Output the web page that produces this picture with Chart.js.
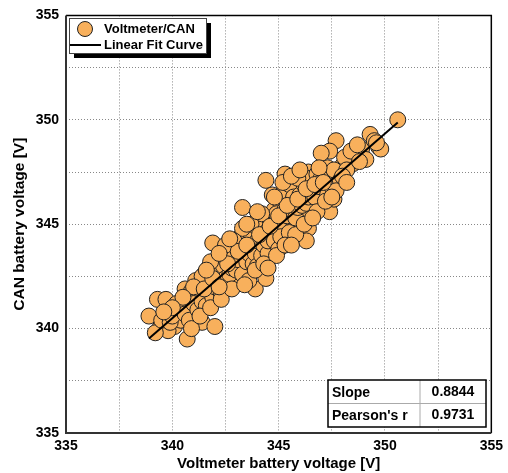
<!DOCTYPE html>
<html>
<head>
<meta charset="utf-8">
<script src="https://cdn.jsdelivr.net/npm/chart.js@4/dist/chart.umd.min.js"></script>
<style>
  html, body { margin: 0; padding: 0; background: #fff; }
  #wrap { width: 508px; height: 473px; }
</style>
</head>
<body>
<div id="wrap"><canvas id="myChart" width="508" height="473"></canvas></div>
<script>

// measured pairs: voltmeter reading vs. value reported on CAN
const voltX = [
  338.9, 339.3, 339.7, 339.4, 339.6, 339.9, 340.3, 340.1, 340.5, 340.6,
  340.7, 341.4, 342.0, 339.8, 340.2, 340.8, 340.4, 341.0, 341.2, 340.9,
  341.3, 341.6, 341.1, 341.5, 341.8, 341.9, 341.7, 342.0, 342.1, 342.3,
  342.2, 342.4, 342.5, 342.6, 342.8, 342.7, 342.9, 343.0, 343.1, 343.2,
  343.3, 343.2, 343.4, 343.5, 343.6, 343.7, 343.8, 343.9, 344.0, 343.9,
  344.4, 344.1, 344.2, 344.3, 344.4, 344.5, 344.6, 344.7, 344.8, 344.9,
  345.0, 345.1, 345.3, 345.2, 345.4, 345.5, 345.6, 345.7, 345.8, 345.9,
  346.0, 346.1, 346.2, 346.4, 346.4, 346.3, 346.5, 346.6, 346.7, 346.8,
  346.9, 347.0, 347.1, 347.3, 347.4, 347.6, 347.4, 347.7, 347.4, 347.8,
  348.0, 348.3, 348.5, 348.6, 348.9, 349.1, 349.3, 349.5, 349.7, 350.6,
  339.2, 339.5, 339.9, 340.0, 340.3, 340.6, 340.8, 341.0, 341.2, 341.4,
  341.6, 341.7, 341.9, 342.0, 342.1, 342.3, 342.4, 342.5, 342.6, 342.7,
  342.8, 342.9, 343.0, 343.0, 343.1, 343.2, 343.3, 343.4, 343.5, 343.6,
  343.6, 343.7, 343.8, 343.9, 344.0, 344.0, 344.1, 344.2, 344.3, 344.4,
  344.5, 344.5, 344.6, 344.7, 344.8, 344.9, 345.0, 345.0, 345.1, 345.2,
  345.3, 345.4, 345.5, 345.5, 345.6, 345.7, 345.8, 345.9, 346.0, 346.1,
  346.2, 346.3, 346.4, 346.5, 346.6, 346.7, 346.8, 346.9, 347.0, 347.2,
  347.3, 347.5, 347.6, 347.9, 348.1, 348.4, 348.7, 348.2, 347.0, 346.9,
  345.9, 345.2, 344.7, 344.2, 343.7, 343.3, 342.9, 342.5, 341.8, 341.4,
  341.0, 340.5, 340.0, 339.6, 340.9, 341.3, 341.8, 342.3, 342.8, 343.4,
  343.9, 344.3, 344.9, 345.3, 345.8, 346.2, 346.8, 347.2, 347.7, 348.0,
  341.5, 341.9, 342.2, 342.6, 343.1, 343.5, 344.1, 344.6, 345.0, 345.4,
  345.9, 346.3, 346.7, 347.1, 344.0, 343.5, 344.8, 345.6, 346.0, 342.2,
  341.6, 342.7, 344.5, 345.6, 346.6, 347.5, 348.2, 348.8, 349.8, 349.6
];
const canY = [
  340.6, 341.4, 341.4, 340.0, 340.2, 340.8, 340.6, 340.1, 340.9, 341.9,
  339.5, 340.3, 340.1, 339.9, 341.2, 341.3, 340.4, 340.9, 341.5, 341.8,
  342.1, 341.7, 342.3, 342.6, 342.2, 344.1, 342.9, 342.5, 341.9, 342.8,
  343.3, 342.2, 343.5, 342.9, 343.2, 343.8, 342.5, 343.6, 344.1, 343.0,
  345.8, 344.4, 343.7, 344.3, 344.8, 343.4, 344.0, 344.6, 345.1, 341.9,
  342.4, 343.8, 344.4, 345.0, 347.1, 345.4, 344.6, 344.1, 345.7, 345.0,
  344.5, 346.0, 347.4, 345.3, 344.8, 345.9, 346.4, 345.2, 346.0, 346.8,
  345.6, 347.0, 346.2, 347.5, 344.8, 344.2, 346.6, 345.9, 347.1, 346.4,
  347.3, 346.7, 345.8, 347.7, 345.6, 346.2, 347.3, 349.0, 348.5, 347.5,
  347.8, 348.1, 347.9, 348.3, 348.6, 348.1, 349.3, 349.0, 348.7, 350.0,
  339.8, 340.4, 340.3, 340.6, 341.0, 340.7, 340.4, 341.2, 340.9, 341.3,
  341.1, 341.9, 341.5, 342.0, 342.7, 341.7, 343.0, 342.4, 343.4, 342.6,
  342.9, 343.4, 342.8, 344.2, 343.3, 343.9, 342.6, 344.5, 343.2, 343.6,
  342.3, 344.3, 343.1, 343.6, 344.2, 343.0, 344.9, 343.5, 344.0, 344.6,
  343.6, 344.2, 345.2, 344.8, 344.2, 345.5, 345.1, 343.8, 344.4, 346.5,
  345.7, 345.4, 344.6, 346.9, 345.7, 346.3, 345.3, 345.8, 346.4, 345.9,
  346.9, 346.0, 346.3, 347.2, 346.8, 346.3, 347.4, 346.8, 347.2, 346.9,
  346.4, 346.8, 347.6, 347.1, 348.2, 348.5, 348.8, 347.6, 348.4, 347.7,
  347.2, 347.0, 346.4, 345.5, 345.0, 344.8, 344.2, 344.0, 343.2, 342.5,
  342.0, 341.5, 341.0, 340.8, 340.0, 340.6, 341.0, 341.4, 341.9, 342.1,
  342.8, 343.1, 343.5, 344.0, 344.5, 345.0, 345.6, 346.1, 346.6, 347.3,
  341.9, 342.4, 342.0, 343.1, 343.7, 344.0, 344.5, 344.9, 345.4, 345.9,
  346.2, 346.7, 346.9, 347.0, 345.6, 345.0, 346.3, 347.3, 347.6, 343.6,
  342.8, 344.3, 342.9, 344.0, 345.3, 346.3, 347.0, 348.0, 348.6, 348.9
];

// linear fit: slope from the table, line passes through the centre of the cloud
const fitSlope = 0.8844;
const fitCenter = [344.75, 344.7];
const fitRangeX = [338.9, 350.6];

const axisMin = 335;
const axisMax = 355;

const statLabels = ['Slope', "Pearson's r"];
const statValues = ['0.8844', '0.9731'];

const seriesNames = ['Voltmeter/CAN', 'Linear Fit Curve'];

const pointColor = '#F8B05C';
const boldFont = 'bold 13px "Liberation Sans", Arial, sans-serif';

const scatterData = voltX.map((x, i) => ({x: x, y: canY[i]}));
const fitData = fitRangeX.map(x => ({x: x, y: fitSlope * (x - fitCenter[0]) + fitCenter[1]}));

// frame, legend box and stats table are drawn by hand
const extras = {
  id: 'extras',
  afterDraw(chart) {
    const c = chart.ctx;
    const a = chart.chartArea;
    c.save();

    // frame
    c.strokeStyle = '#000';
    c.lineWidth = 1.5;
    c.beginPath();
    c.moveTo(a.left, a.top);
    c.lineTo(a.right, a.top);
    c.lineTo(a.right, a.bottom);
    c.stroke();
    c.strokeStyle = '#333';
    c.lineWidth = 2;
    c.beginPath();
    c.moveTo(a.left, a.top);
    c.lineTo(a.left, a.bottom);
    c.lineTo(a.right, a.bottom);
    c.stroke();

    // legend with drop shadow
    const lx = 69, ly = 18, lw = 137, lh = 35;
    c.fillStyle = '#000';
    c.fillRect(lx + 5, ly + 5, lw, lh);
    c.fillStyle = '#fff';
    c.fillRect(lx, ly, lw, lh);
    c.strokeStyle = '#444';
    c.lineWidth = 1;
    c.strokeRect(lx + 0.5, ly + 0.5, lw, lh);

    c.beginPath();
    c.arc(85, 29, 7.5, 0, Math.PI * 2);
    c.fillStyle = pointColor;
    c.fill();
    c.strokeStyle = '#222';
    c.stroke();

    c.beginPath();
    c.moveTo(70, 45);
    c.lineTo(101, 45);
    c.strokeStyle = '#000';
    c.lineWidth = 2;
    c.stroke();

    c.font = boldFont;
    c.fillStyle = '#000';
    c.textBaseline = 'middle';
    c.textAlign = 'left';
    c.fillText(seriesNames[0], 104, 29);
    c.fillText(seriesNames[1], 104, 45);

    // stats table
    const tx = 328, ty = 380, tw = 158, th = 47, split = 420;
    c.fillStyle = '#fff';
    c.fillRect(tx, ty, tw, th);
    c.strokeStyle = '#aaa';
    c.lineWidth = 1;
    c.beginPath();
    c.moveTo(tx, ty + th / 2);
    c.lineTo(tx + tw, ty + th / 2);
    c.moveTo(split, ty);
    c.lineTo(split, ty + th);
    c.stroke();
    c.strokeStyle = '#000';
    c.lineWidth = 1.5;
    c.strokeRect(tx, ty, tw, th);

    c.fillStyle = '#000';
    c.font = 'bold 14px "Liberation Sans", Arial, sans-serif';
    statLabels.forEach((t, i) => {
      const y = ty + th / 4 + i * th / 2 + 1;
      c.textAlign = 'left';
      c.fillText(t, tx + 4, y);
      c.textAlign = 'center';
      c.fillText(statValues[i], (split + tx + tw) / 2, y - 1);
    });

    c.restore();
  }
};

const tickLabel = v => (v % 5 === 0 ? String(v) : '');

new Chart(document.getElementById('myChart'), {
  type: 'scatter',
  data: {
    datasets: [
      {
        type: 'line',
        label: seriesNames[1],
        data: fitData,
        borderColor: '#000',
        borderWidth: 2,
        pointRadius: 0,
        fill: false,
        order: 0
      },
      {
        label: seriesNames[0],
        data: scatterData,
        backgroundColor: pointColor,
        borderColor: '#222',
        borderWidth: 1,
        pointRadius: 8,
        order: 1
      }
    ]
  },
  options: {
    responsive: false,
    animation: false,
    layout: { padding: { top: 13, right: 15, left: 0, bottom: 0 } },
    plugins: { legend: { display: false }, tooltip: { enabled: false } },
    scales: {
      x: {
        type: 'linear',
        min: axisMin,
        max: axisMax,
        afterFit: s => { s.height = 40; },
        border: { display: false, dash: [1, 2] },
        grid: { color: '#888', drawTicks: false, lineWidth: 1 },
        ticks: {
          stepSize: 2.5,
          autoSkip: false,
          maxRotation: 0,
          padding: 5,
          color: '#000',
          font: { family: '"Liberation Sans", Arial, sans-serif', size: 14, weight: 'bold' },
          callback: tickLabel
        },
        title: {
          display: true,
          text: 'Voltmeter battery voltage [V]',
          color: '#000',
          padding: { top: 0, bottom: 0 },
          font: { family: '"Liberation Sans", Arial, sans-serif', size: 15, weight: 'bold' }
        }
      },
      y: {
        type: 'linear',
        min: axisMin,
        max: axisMax,
        afterFit: s => { s.width = 66; },
        border: { display: false, dash: [1, 2] },
        grid: { color: '#888', drawTicks: false, lineWidth: 1 },
        ticks: {
          stepSize: 2.5,
          autoSkip: false,
          padding: 7,
          color: '#000',
          font: { family: '"Liberation Sans", Arial, sans-serif', size: 14, weight: 'bold' },
          callback: tickLabel
        },
        title: {
          display: true,
          text: 'CAN battery voltage [V]',
          color: '#000',
          padding: { top: 10, bottom: 0 },
          font: { family: '"Liberation Sans", Arial, sans-serif', size: 15.5, weight: 'bold' }
        }
      }
    }
  },
  plugins: [extras]
});
</script>
</body>
</html>
